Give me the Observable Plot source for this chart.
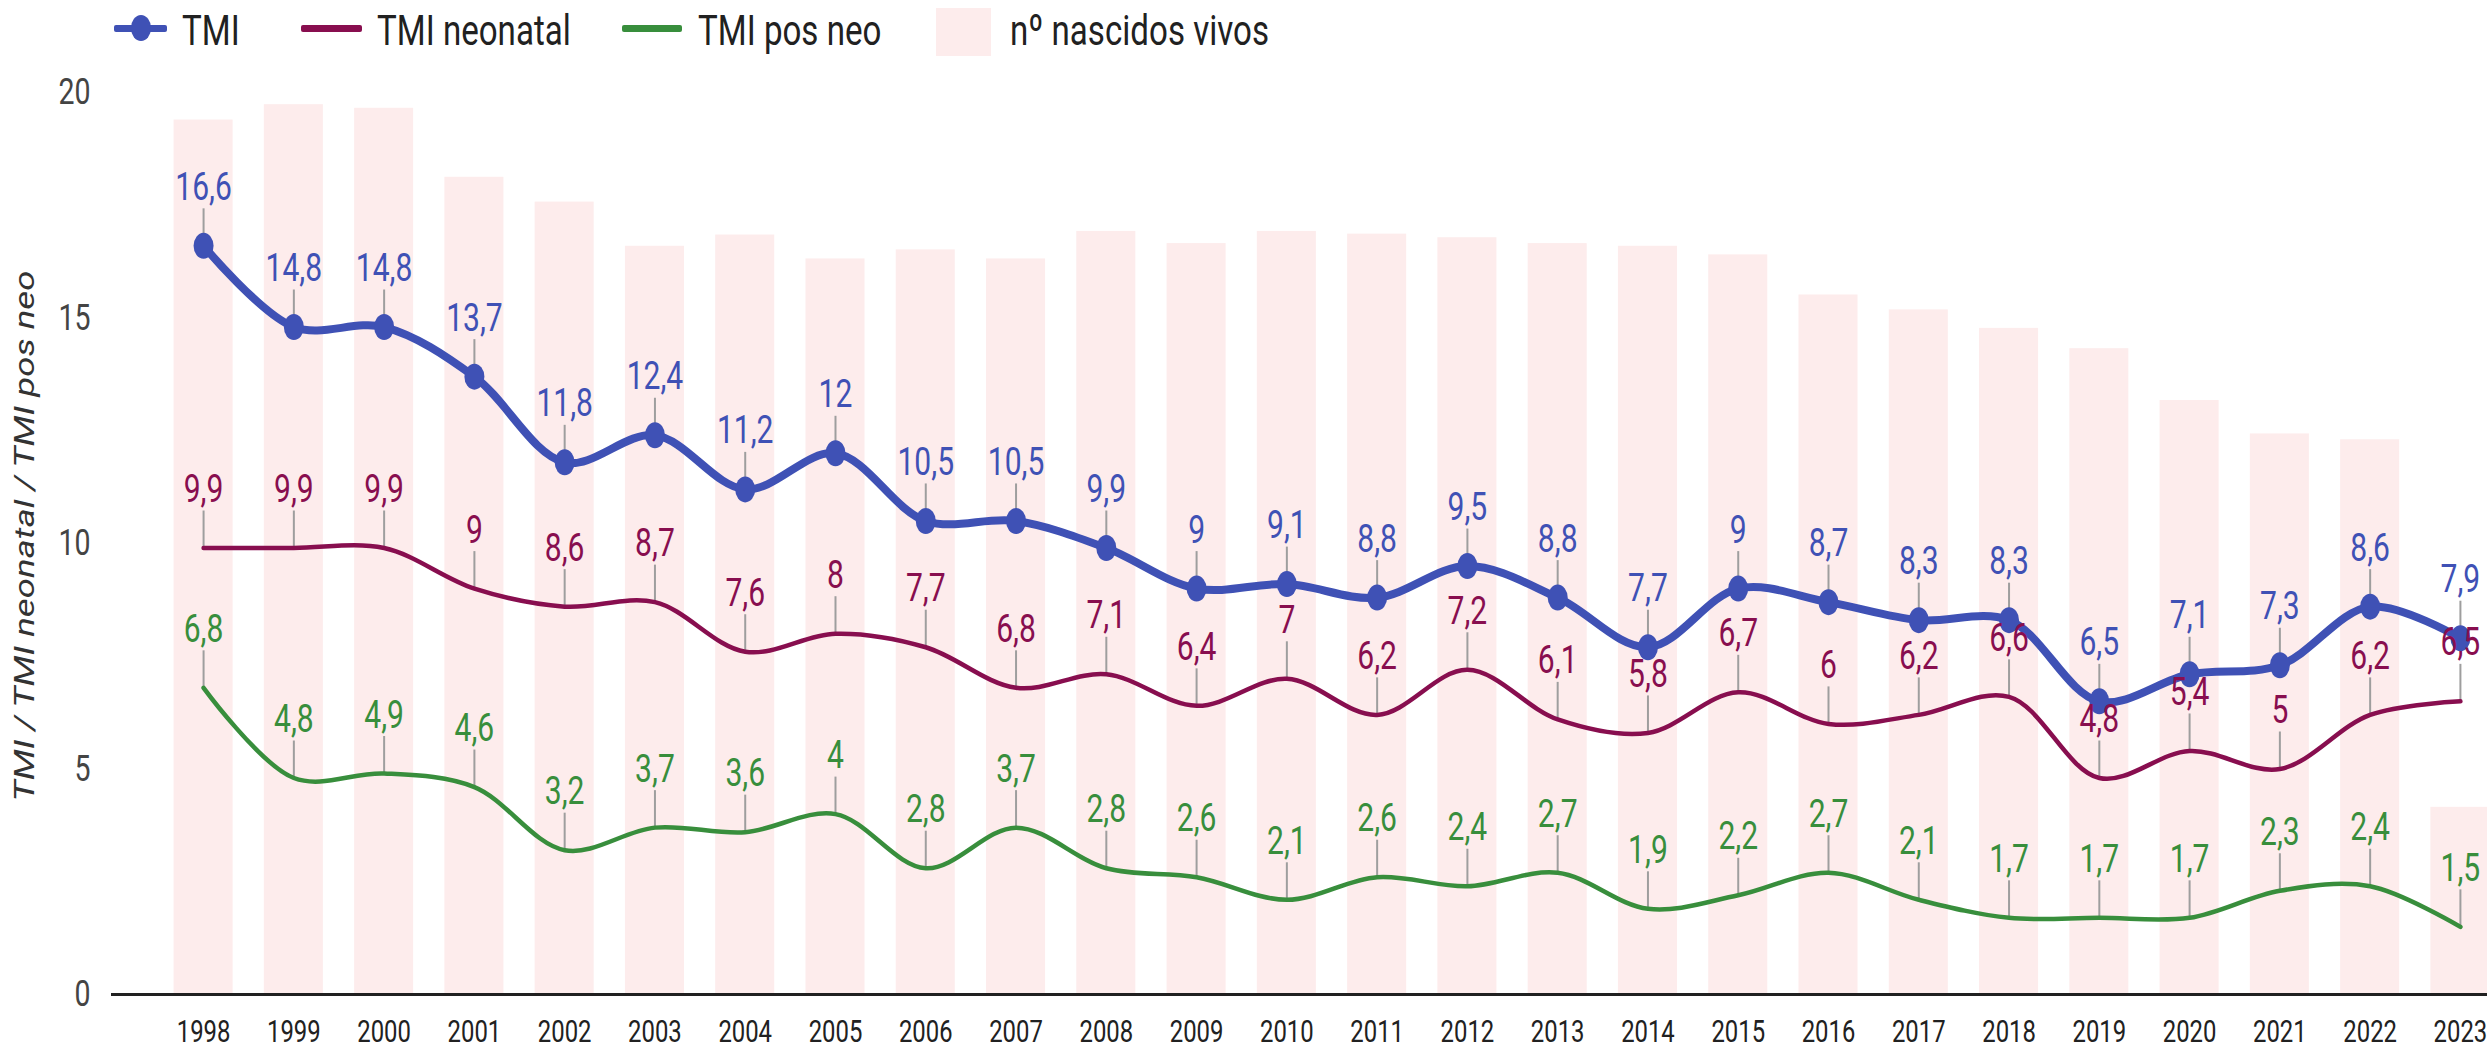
<!DOCTYPE html>
<html>
<head>
<meta charset="utf-8">
<script src="https://cdn.jsdelivr.net/npm/d3@7"></script>
<script src="https://cdn.jsdelivr.net/npm/@observablehq/plot@0.6"></script>
<style>
  html, body { margin: 0; padding: 0; background: #fff; }
  body { font-family: Roboto, sans-serif; width: 2487px; height: 1051px; overflow: hidden; }
  #legend { position: relative; width: 2487px; height: 50px; }
  #legend .txt { position: absolute; top: 9px; font-size: 43px; line-height: 43px; color: #212121;
                 transform: scaleX(0.77); transform-origin: 0 0; white-space: nowrap; }
  #legend .sw { position: absolute; }
  #chart svg { display: block; }
</style>
</head>
<body>
<div id="legend"></div>
<div id="chart"></div>
<script>
// ---------- data ----------
const years = [1998, 1999, 2000, 2001, 2002, 2003, 2004, 2005, 2006, 2007, 2008, 2009, 2010,
               2011, 2012, 2013, 2014, 2015, 2016, 2017, 2018, 2019, 2020, 2021, 2022, 2023];
const tmi = [16.6, 14.8, 14.8, 13.7, 11.8, 12.4, 11.2, 12, 10.5, 10.5, 9.9, 9, 9.1,
             8.8, 9.5, 8.8, 7.7, 9, 8.7, 8.3, 8.3, 6.5, 7.1, 7.3, 8.6, 7.9];
const tmiNeonatal = [9.9, 9.9, 9.9, 9, 8.6, 8.7, 7.6, 8, 7.7, 6.8, 7.1, 6.4, 7,
                     6.2, 7.2, 6.1, 5.8, 6.7, 6, 6.2, 6.6, 4.8, 5.4, 5, 6.2, 6.5];
const tmiPosNeo = [6.8, 4.8, 4.9, 4.6, 3.2, 3.7, 3.6, 4, 2.8, 3.7, 2.8, 2.6, 2.1,
                   2.6, 2.4, 2.7, 1.9, 2.2, 2.7, 2.1, 1.7, 1.7, 1.7, 2.3, 2.4, 1.5];
// nº nascidos vivos (secondary, hidden axis 0–200 000)
const nascidosVivos = [193900, 197300, 196500, 181200, 175700, 165900, 168400, 163100, 165100, 163100,
                       169200, 166500, 169200, 168600, 167800, 166500, 165900, 164000, 155100, 151800,
                       147700, 143200, 131700, 124300, 123000, 41500];
const birthsAxisMax = 200000;
const yTicks = [0, 5, 10, 15, 20];
const yTitle = "TMI / TMI neonatal / TMI pos neo";
const seriesNames = ["TMI", "TMI neonatal", "TMI pos neo", "nº nascidos vivos"];
const seriesColors = ["#3F51B5", "#880E4F", "#388E3C", "#FDECEC"];

// ---------- table ----------
const rows = years.map((year, i) => ({
  year, tmi: tmi[i], neo: tmiNeonatal[i], pos: tmiPosNeo[i], births: nascidosVivos[i]
}));
const birthsToAxis = d3.scaleLinear([0, birthsAxisMax], [0, 20]);
const fmt = v => String(v).replace(".", ",");

// ---------- legend (HTML) ----------
const legend = document.getElementById("legend");
const legendLayout = [
  {kind: "lineDot", x: 114, w: 53, tx: 182},
  {kind: "line", x: 301, w: 61, tx: 377},
  {kind: "line", x: 622, w: 60, tx: 698},
  {kind: "rect", x: 936, w: 55, tx: 1010}
];
legendLayout.forEach((L, i) => {
  const c = seriesColors[i];
  if (L.kind === "rect") {
    const r = document.createElement("div");
    r.className = "sw";
    Object.assign(r.style, {left: L.x + "px", top: "8px", width: L.w + "px", height: "48px", background: c});
    legend.appendChild(r);
  } else {
    const l = document.createElement("div");
    l.className = "sw";
    Object.assign(l.style, {left: L.x + "px", top: "25px", width: L.w + "px", height: "7px", background: c, borderRadius: "2px"});
    legend.appendChild(l);
    if (L.kind === "lineDot") {
      const d = document.createElement("div");
      d.className = "sw";
      Object.assign(d.style, {left: (L.x + L.w / 2 - 10) + "px", top: "15px", width: "20px", height: "26px", background: c, borderRadius: "50%"});
      legend.appendChild(d);
    }
  }
  const t = document.createElement("div");
  t.className = "txt";
  t.style.left = L.tx + "px";
  t.textContent = seriesNames[i];
  legend.appendChild(t);
});

// ---------- chart ----------
const labelOpts = {fontSize: 39, lineAnchor: "bottom", dy: -46, textAnchor: "middle"};
const leaderOpts = {stroke: "#9e9e9e", strokeWidth: 2, insetTop: -37};

const plot = Plot.plot({
  width: 2487,
  height: 1001,
  marginTop: 42,
  marginBottom: 57,
  marginLeft: 111,
  marginRight: 0,
  style: {fontFamily: "Roboto, sans-serif", background: "#fff"},
  x: {type: "linear", domain: [1996.98, 2023.30]},
  y: {domain: [0, 20]},
  marks: [
    Plot.rectY(rows, {x1: d => d.year - 0.327, x2: d => d.year + 0.327, y1: 0, y2: d => birthsToAxis(d.births), fill: seriesColors[3]}),
    Plot.ruleY([0], {stroke: "#212121", strokeWidth: 3}),
    Plot.axisX({ticks: years, tickFormat: d => String(d), tickSize: 0, tickPadding: 25, fontSize: 31, color: "#212121", label: null}),
    Plot.axisY({ticks: yTicks, tickSize: 0, tickPadding: 21, fontSize: 37, color: "#444", label: null}),
    Plot.ruleX(rows, {x: "year", y1: "pos", y2: "pos", ...leaderOpts}),
    Plot.ruleX(rows, {x: "year", y1: "neo", y2: "neo", ...leaderOpts}),
    Plot.ruleX(rows, {x: "year", y1: "tmi", y2: "tmi", ...leaderOpts}),
    Plot.line(rows, {x: "year", y: "pos", stroke: seriesColors[2], strokeWidth: 4.5, curve: "catmull-rom"}),
    Plot.line(rows, {x: "year", y: "neo", stroke: seriesColors[1], strokeWidth: 4.5, curve: "catmull-rom"}),
    Plot.line(rows, {x: "year", y: "tmi", stroke: seriesColors[0], strokeWidth: 8, curve: "catmull-rom"}),
    Plot.dot(rows, {x: "year", y: "tmi", r: 10, fill: seriesColors[0]}),
    Plot.text(rows, {x: "year", y: "pos", text: d => fmt(d.pos), fill: seriesColors[2], ...labelOpts}),
    Plot.text(rows, {x: "year", y: "neo", text: d => fmt(d.neo), fill: seriesColors[1], ...labelOpts}),
    Plot.text(rows, {x: "year", y: "tmi", text: d => fmt(d.tmi), fill: seriesColors[0], ...labelOpts}),
    Plot.text([yTitle], {frameAnchor: "left", textAnchor: "middle", rotate: -90, fontSize: 28, fontStyle: "italic", fill: "#333"})
  ]
});
document.getElementById("chart").appendChild(plot);

// vertical-stretch look of the original: condense horizontal text, elongate rotated title, ellipse dots
const svg = d3.select(plot);
const titleLength = 531;      // rendered length of the rotated title, px
const titleCenterY = 486;     // centre of the title along the axis, svg px
const titleX = 24;
svg.selectAll("text").each(function () {
  if (this.textContent === yTitle) {
    const g = this.parentNode;
    if (g && g.removeAttribute) g.removeAttribute("transform");
    this.setAttribute("text-anchor", "middle");
    this.removeAttribute("y");
    this.setAttribute("dy", "0.35em");
    const raw = this.getComputedTextLength();
    const s = raw > 0 ? titleLength / raw : 1.3;
    this.setAttribute("transform", `translate(${titleX},${titleCenterY}) rotate(-90) scale(${s},1)`);
    return;
  }
  const x = parseFloat(this.getAttribute("x")) || 0;
  const tr = this.getAttribute("transform") || "";
  this.setAttribute("transform", `${tr} translate(${x},0) scale(0.77,1) translate(${-x},0)`);
});
svg.selectAll("circle").each(function () {
  const cx = +this.getAttribute("cx") || 0, cy = +this.getAttribute("cy") || 0;
  const tr = this.getAttribute("transform") || "";
  this.setAttribute("transform", `${tr} translate(${cx},${cy}) scale(1,1.3) translate(${-cx},${-cy})`);
});
</script>
</body>
</html>
